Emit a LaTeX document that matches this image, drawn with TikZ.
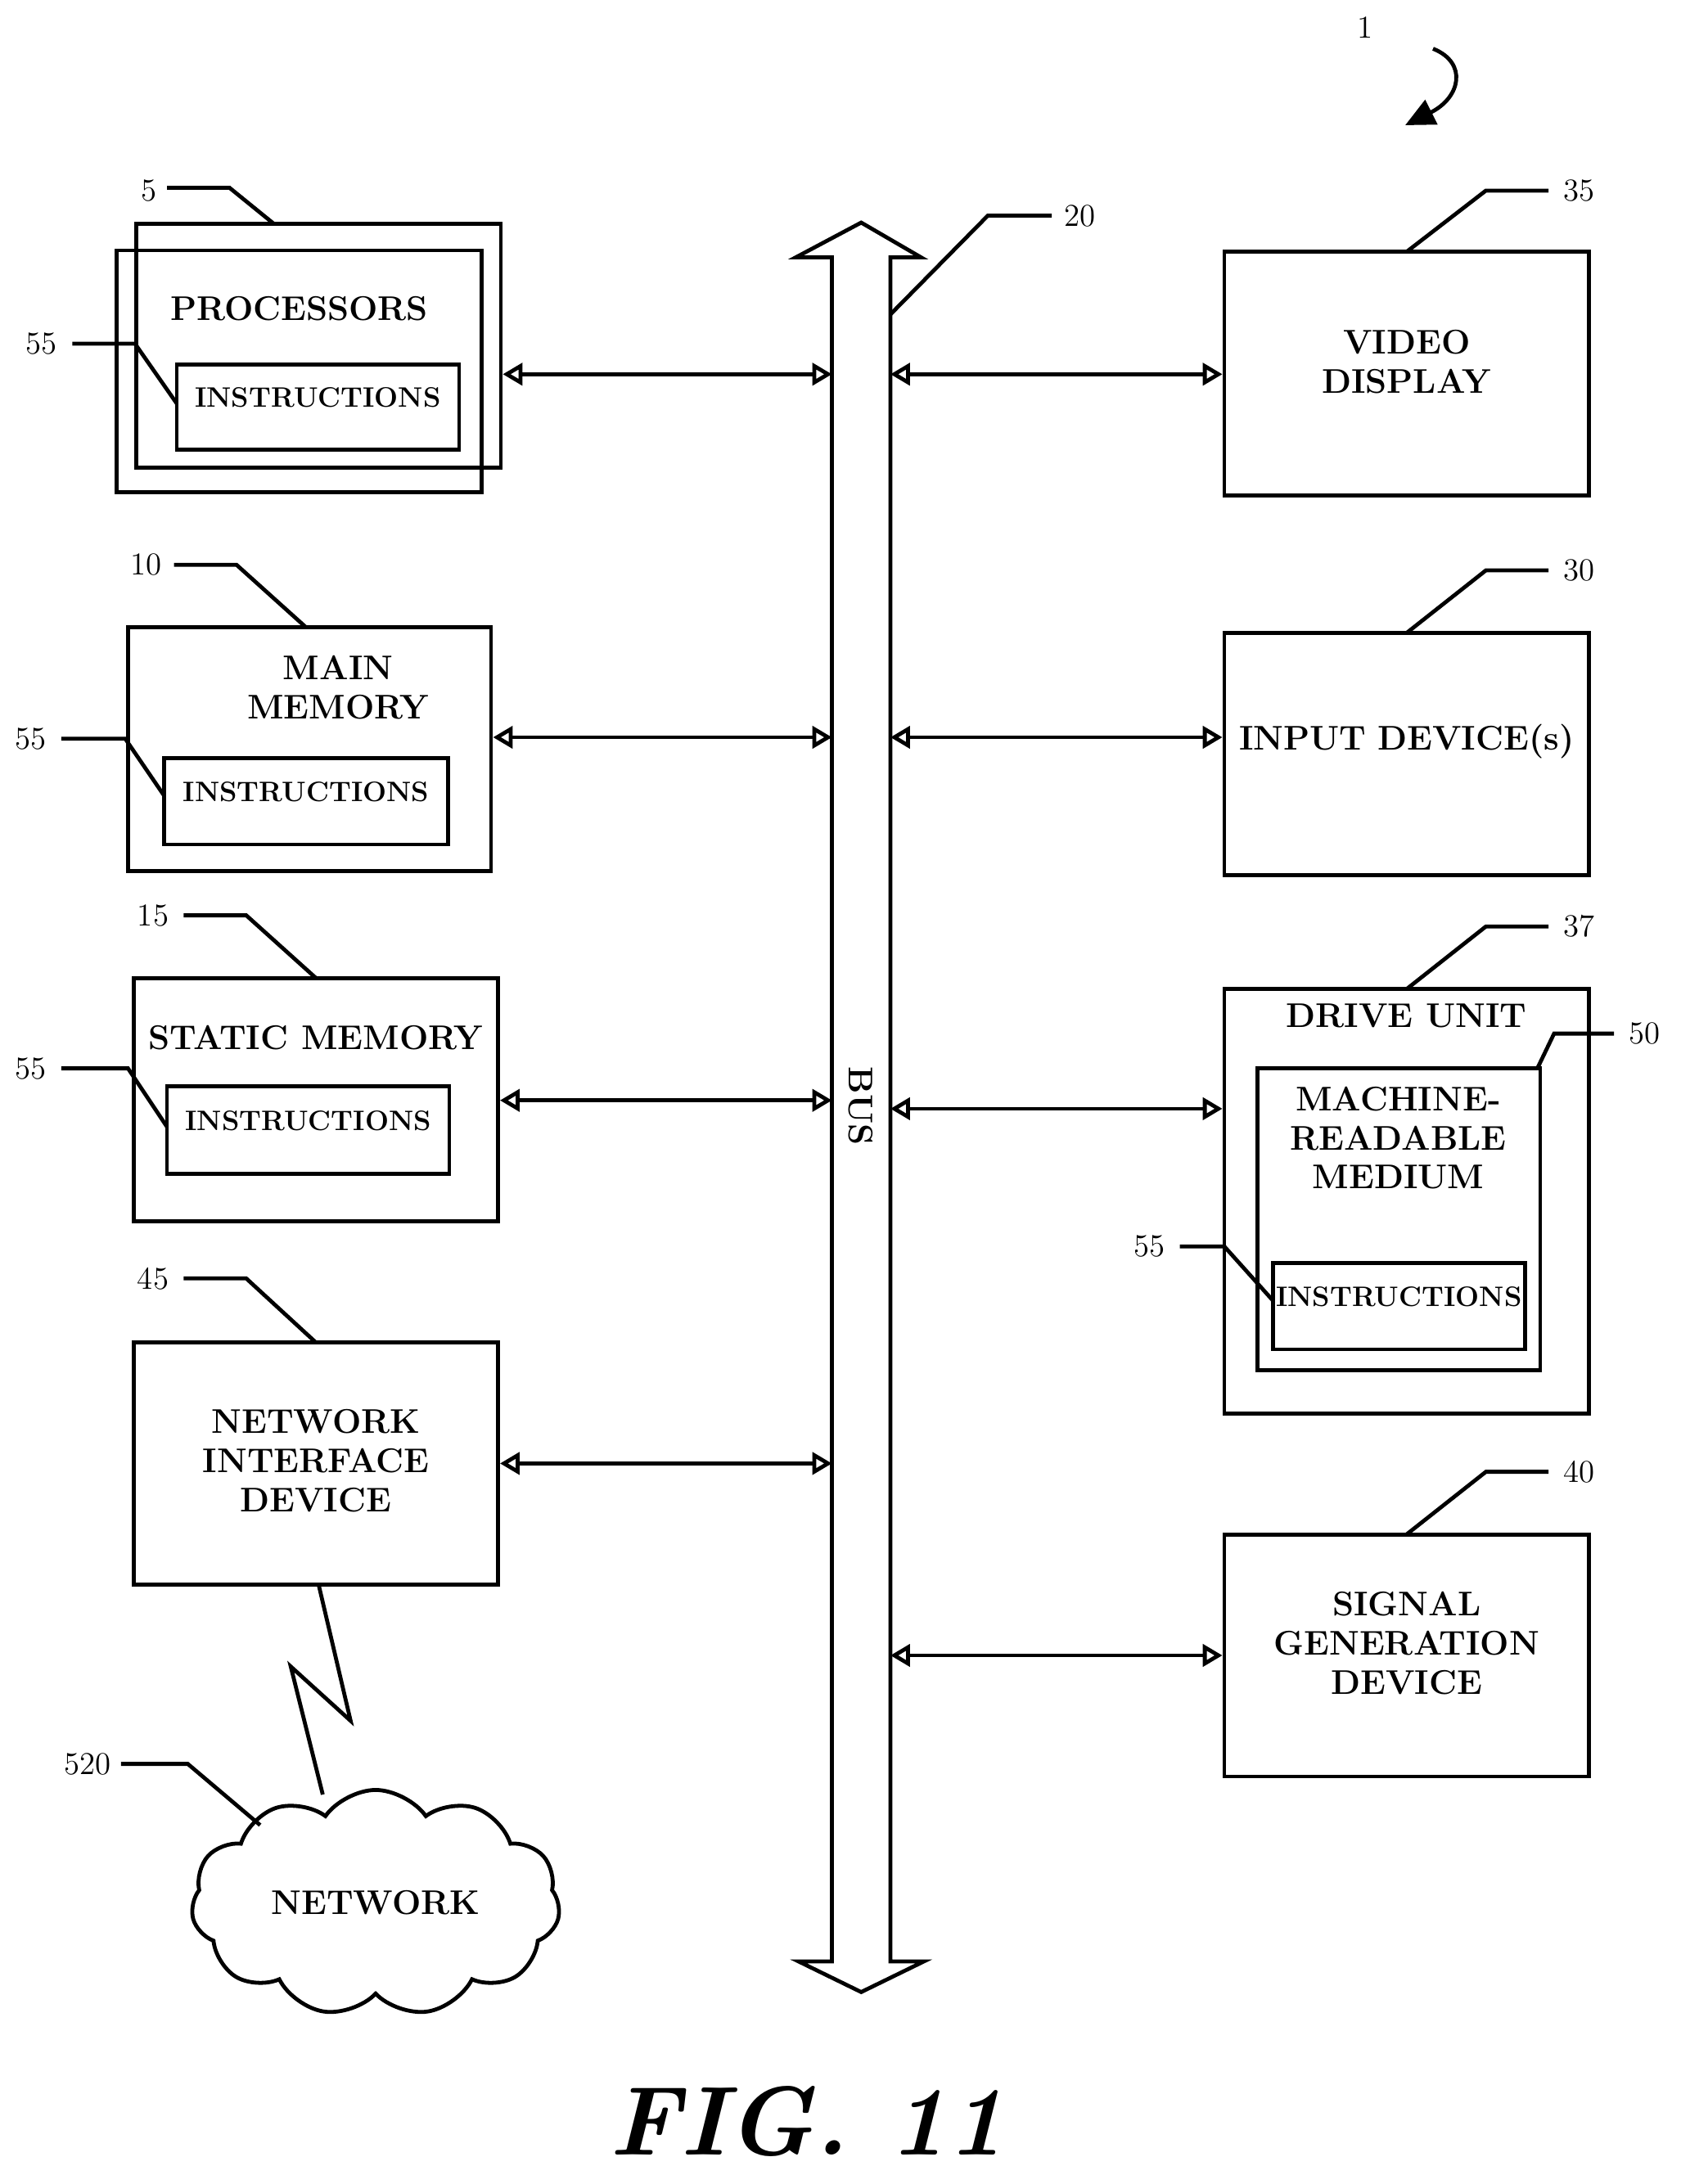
\documentclass[tikz,border=0pt]{standalone}
\usepackage{tikz}
\usetikzlibrary{arrows.meta,fit,shapes.symbols,calc}

\tikzset{
  box/.style={draw,line width=1.6pt,inner sep=0pt},
  txt/.style={font=\fontsize{14}{16}\selectfont\bfseries,align=center},
  small/.style={font=\fontsize{11.5}{14}\selectfont\bfseries},
  num/.style={font=\fontsize{13}{15}\selectfont},
  lead/.style={line width=1.6pt},
  link/.style={line width=1.6pt,{Triangle[open,length=8pt,width=9pt]}-{Triangle[open,length=8pt,width=9pt]}}
}

\begin{document}
\begin{tikzpicture}[x=0.02cm,y=-0.02cm]
\useasboundingbox (0,0) rectangle (1208,1570);

% Left column
\node[box,fit={(98,161)(360,336)}] (proc) {};
\node[box,fit={(84,180)(346,354)}] (proc2) {};
\node[txt] at (215,222) {PROCESSORS};
\node[box,fit={(127,262)(330,323)},small] (pi) {INSTRUCTIONS};

\node[box,fit={(92,451)(353,626)}] (mem) {};
\node[txt] at (243,494) {MAIN\\MEMORY};
\node[box,fit={(118,545)(322,607)},small] (mi) {INSTRUCTIONS};

\node[box,fit={(96,703)(358,878)}] (smem) {};
\node[txt] at (227,746) {STATIC MEMORY};
\node[box,fit={(120,781)(323,844)},small] (si) {INSTRUCTIONS};

\node[box,fit={(96,965)(358,1139)}] (nid) {};
\node[txt] at (227,1050) {NETWORK\\INTERFACE\\DEVICE};

\node[cloud,draw,line width=1.6pt,cloud puffs=11,cloud puff arc=110,aspect=1.7,
  minimum width=5.3cm,minimum height=3.1cm,txt] (net) at (270,1368) {NETWORK};
\draw[line width=1.6pt] (229,1139) -- (252,1237) -- (209,1198) -- (232,1290);

% Bus
\draw[line width=1.6pt] (598,185) -- (572,185) -- (619,160) -- (662,185) -- (640,185)
  -- (640,1410) -- (664,1410) -- (619,1432) -- (574,1410) -- (598,1410) -- cycle;
\node[txt,rotate=-90] at (619,795) {BUS};
\coordinate (bL1) at (598,269); \coordinate (bR1) at (640,269);
\coordinate (bL2) at (598,530); \coordinate (bR2) at (640,530);
\coordinate (bL3) at (598,791); \coordinate (bR3) at (640,797);
\coordinate (bL4) at (598,1052); \coordinate (bR4) at (640,1190);

% Right column
\node[box,fit={(880,181)(1142,356)},txt] (vid) {VIDEO\\DISPLAY};
\node[box,fit={(880,455)(1142,629)},txt] (inp) {INPUT DEVICE(s)};
\node[box,fit={(880,711)(1142,1016)}] (drv) {};
\node[txt] at (1011,730) {DRIVE UNIT};
\node[box,fit={(904,768)(1107,985)}] (mrm) {};
\node[txt] at (1005,818) {MACHINE-\\READABLE\\MEDIUM};
\node[box,fit={(915,908)(1096,970)},small] (di) {INSTRUCTIONS};
\node[box,fit={(880,1103)(1142,1277)},txt] (sig) {SIGNAL\\GENERATION\\DEVICE};

% Links to bus
\draw[link] (bL1 -| proc.east) -- (bL1);
\draw[link] (bL2 -| mem.east) -- (bL2);
\draw[link] (bL3 -| smem.east) -- (bL3);
\draw[link] (bL4 -| nid.east) -- (bL4);
\draw[link] (bR1) -- (bR1 -| vid.west);
\draw[link] (bR2) -- (bR2 -| inp.west);
\draw[link] (bR3) -- (bR3 -| drv.west);
\draw[link] (bR4) -- (bR4 -| sig.west);

% Reference numerals
\node[num] at (107,137) {5};
\draw[lead] (120,135) -- (165,135) -- (197,161);
\node[num] at (30,247) {55};
\draw[lead] (52,247) -- (97,247) -- (127,290);
\node[num] at (105,406) {10};
\draw[lead] (125,406) -- (170,406) -- (220,451);
\node[num] at (22,531) {55};
\draw[lead] (44,531) -- (90,531) -- (118,572);
\node[num] at (110,658) {15};
\draw[lead] (132,658) -- (177,658) -- (227,703);
\node[num] at (22,768) {55};
\draw[lead] (44,768) -- (92,768) -- (120,810);
\node[num] at (110,919) {45};
\draw[lead] (132,919) -- (177,919) -- (227,965);
\node[num] at (63,1268) {520};
\draw[lead] (87,1268) -- (135,1268) -- (187,1312);
\node[num] at (776,155) {20};
\draw[lead] (756,155) -- (710,155) -- (640,226);
\node[num] at (1135,137) {35};
\draw[lead] (1113,137) -- (1068,137) -- (1011,181);
\node[num] at (1135,410) {30};
\draw[lead] (1113,410) -- (1068,410) -- (1011,455);
\node[num] at (1135,666) {37};
\draw[lead] (1113,666) -- (1068,666) -- (1011,711);
\node[num] at (1182,743) {50};
\draw[lead] (1160,743) -- (1117,743) -- (1105,768);
\node[num] at (826,896) {55};
\draw[lead] (848,896) -- (880,896) -- (915,935);
\node[num] at (1135,1058) {40};
\draw[lead] (1113,1058) -- (1068,1058) -- (1011,1103);

\node[num] at (981,20) {1};
\draw[line width=1.6pt,-{Triangle[length=12pt,width=11pt]}] (1030,35) .. controls (1055,45) and (1050,70) .. (1010,90);

\node[font=\fontsize{40}{44}\selectfont\bfseries\itshape] at (580,1525) {FIG. 11};
\end{tikzpicture}
\end{document}
